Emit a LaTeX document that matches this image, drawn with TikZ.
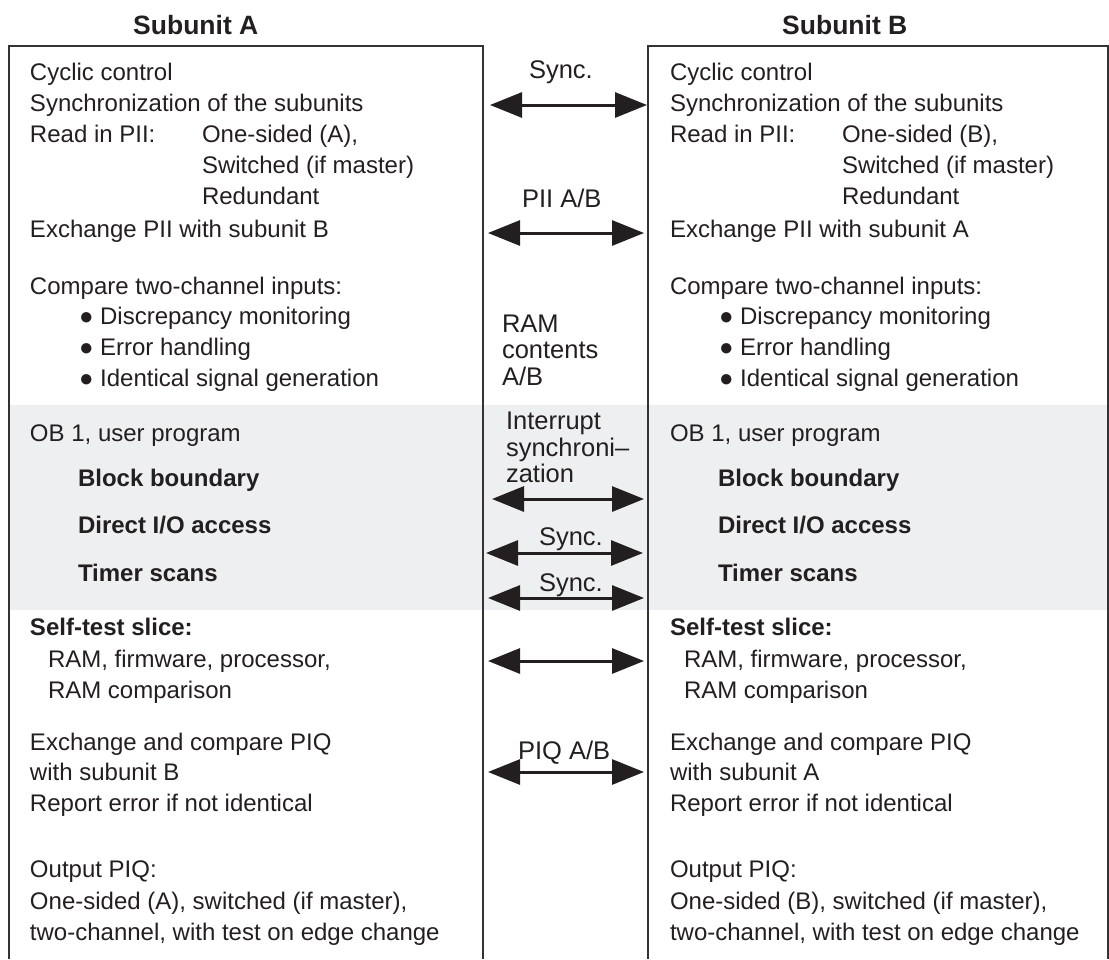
\documentclass[tikz,border=0pt]{standalone}
\usepackage{fontspec}
\setmainfont{Liberation Sans}
\usetikzlibrary{arrows.meta}

\definecolor{ink}{HTML}{231F20}
\definecolor{edge}{HTML}{333333}
\definecolor{band}{HTML}{EEEFF0}

\newcommand{\bodyfont}{\fontsize{24}{26.5}\selectfont}
\newcommand{\midfont}{\fontsize{25.5}{27}\selectfont}
\newcommand{\headfont}{\fontsize{26.5}{28}\selectfont\bfseries}

\tikzset{
  txt/.style={anchor=base west, inner sep=0pt, outer sep=0pt, text=ink, font=\bodyfont},
  bld/.style={txt, font=\bodyfont\bfseries},
  midtxt/.style={txt, font=\midfont},
  head/.style={anchor=base west, inner sep=0pt, text=ink, font=\headfont},
  frame/.style={draw=edge, line width=1.3pt},
  link/.style={draw=ink, line width=3pt,
    {Triangle[length=32pt,width=25pt]}-{Triangle[length=32pt,width=25pt]}},
}

\begin{document}
\begin{tikzpicture}[x=1pt, y=-1pt]
  \useasboundingbox (0,0) rectangle (1109,959);

  % shaded band behind the user program section
  \fill[band] (9,405) rectangle (1108,610);

  % the two subunit frames (open at the bottom)
  \draw[frame] (9,959) -- (9,46) -- (483,46) -- (483,959);
  \draw[frame] (648,959) -- (648,46) -- (1108,46) -- (1108,959);

  % titles
  \node[head] (tA) at (133,34) {Subunit A};
  \node[head] (tB) at (782,34) {Subunit B};

  % ---------------- Subunit A ----------------
  \node[txt] (a1)  at (30,80)  {Cyclic control};
  \node[txt] (a2)  at (30,111) {Synchronization of the subunits};
  \node[txt] (a3)  at (30,142) {Read in PII:};
  \node[txt] (a3b) at (202,142) {One-sided (A),};
  \node[txt] (a4)  at (202,173) {Switched (if master)};
  \node[txt] (a5)  at (202,204) {Redundant};
  \node[txt] (a6)  at (30,237) {Exchange PII with subunit B};
  \node[txt] (a7)  at (30,294) {Compare two-channel inputs:};
  \node[txt] (a8)  at (79,324) {● Discrepancy monitoring};
  \node[txt] (a9)  at (79,355) {● Error handling};
  \node[txt] (a10) at (79,386) {● Identical signal generation};
  \node[txt] (a11) at (30,441) {OB 1, user program};
  \node[bld] (a12) at (78,486) {Block boundary};
  \node[bld] (a13) at (78,533) {Direct I/O access};
  \node[bld] (a14) at (78,581) {Timer scans};
  \node[bld] (a15) at (30,635) {Self-test slice:};
  \node[txt] (a16) at (48,667) {RAM, firmware, processor,};
  \node[txt] (a17) at (48,698) {RAM comparison};
  \node[txt] (a18) at (30,750) {Exchange and compare PIQ};
  \node[txt] (a19) at (30,780) {with subunit B};
  \node[txt] (a20) at (30,811) {Report error if not identical};
  \node[txt] (a21) at (30,877) {Output PIQ:};
  \node[txt] (a22) at (30,909) {One-sided (A), switched (if master),};
  \node[txt] (a23) at (30,940) {two-channel, with test on edge change};

  % ---------------- Subunit B ----------------
  \node[txt] (b1)  at (670,80)  {Cyclic control};
  \node[txt] (b2)  at (670,111) {Synchronization of the subunits};
  \node[txt] (b3)  at (670,142) {Read in PII:};
  \node[txt] (b3b) at (842,142) {One-sided (B),};
  \node[txt] (b4)  at (842,173) {Switched (if master)};
  \node[txt] (b5)  at (842,204) {Redundant};
  \node[txt] (b6)  at (670,237) {Exchange PII with subunit A};
  \node[txt] (b7)  at (670,294) {Compare two-channel inputs:};
  \node[txt] (b8)  at (719,324) {● Discrepancy monitoring};
  \node[txt] (b9)  at (719,355) {● Error handling};
  \node[txt] (b10) at (719,386) {● Identical signal generation};
  \node[txt] (b11) at (670,441) {OB 1, user program};
  \node[bld] (b12) at (718,486) {Block boundary};
  \node[bld] (b13) at (718,533) {Direct I/O access};
  \node[bld] (b14) at (718,581) {Timer scans};
  \node[bld] (b15) at (670,635) {Self-test slice:};
  \node[txt] (b16) at (684,667) {RAM, firmware, processor,};
  \node[txt] (b17) at (684,698) {RAM comparison};
  \node[txt] (b18) at (670,750) {Exchange and compare PIQ};
  \node[txt] (b19) at (670,780) {with subunit A};
  \node[txt] (b20) at (670,811) {Report error if not identical};
  \node[txt] (b21) at (670,877) {Output PIQ:};
  \node[txt] (b22) at (670,909) {One-sided (B), switched (if master),};
  \node[txt] (b23) at (670,940) {two-channel, with test on edge change};

  % ---------------- exchange labels ----------------
  \node[midtxt] (m1) at (529,78)  {Sync.};
  \node[midtxt] (m2) at (522,207) {PII A/B};
  \node[midtxt] (m3a) at (502,332) {RAM};
  \node[midtxt] (m3b) at (502,358) {contents};
  \node[midtxt] (m3c) at (502,385) {A/B};
  \node[midtxt] (m4a) at (506,429) {Interrupt};
  \node[midtxt] (m4b) at (506,456) {synchroni–};
  \node[midtxt] (m4c) at (506,482) {zation};
  \node[midtxt] (m5) at (539,545) {Sync.};
  \node[midtxt] (m6) at (539,591) {Sync.};
  \node[midtxt] (m7) at (518,759) {PIQ A/B};

  % ---------------- exchange arrows ----------------
  \coordinate (pA1) at (490,105); \coordinate (pB1) at (647,105);
  \coordinate (pA2) at (488,233); \coordinate (pB2) at (644,233);
  \coordinate (pA3) at (492,499); \coordinate (pB3) at (644,499);
  \coordinate (pA4) at (486,553); \coordinate (pB4) at (643,553);
  \coordinate (pA5) at (488,598); \coordinate (pB5) at (644,598);
  \coordinate (pA6) at (488,661); \coordinate (pB6) at (644,661);
  \coordinate (pA7) at (488,772); \coordinate (pB7) at (644,772);
  \foreach \i in {1,...,7}
    \draw[link] (pA\i) -- (pB\i);
\end{tikzpicture}
\end{document}
